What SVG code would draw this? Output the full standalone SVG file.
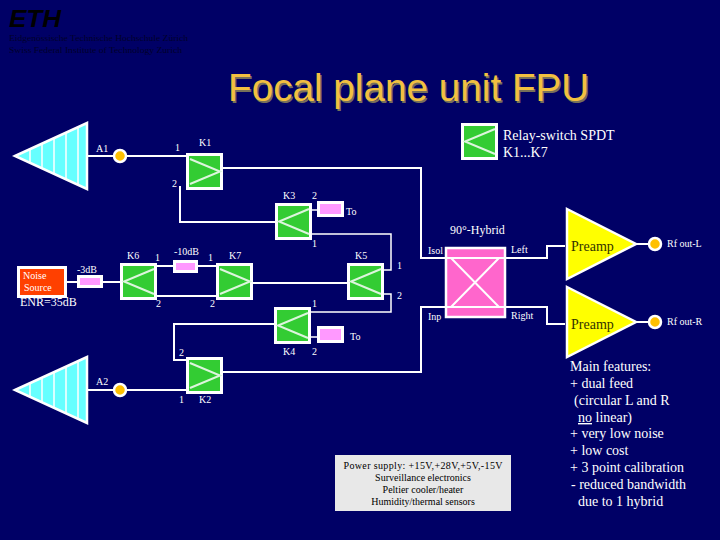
<svg xmlns="http://www.w3.org/2000/svg" width="720" height="540" viewBox="0 0 720 540">
<defs>
<style>
text{font-family:"Liberation Serif","Times New Roman",serif;fill:#fff;font-size:10px}
.w{fill:none;stroke:#fff;stroke-width:2}
.t{stroke-width:1.5}
.sw{fill:#33cc33;stroke:#fff;stroke-width:3}
.sl{fill:none;stroke:#ddf5dd;stroke-width:2}
.at{fill:#ff99ff;stroke:#fff;stroke-width:3}
.dot{fill:#ffc000;stroke:#fff;stroke-width:2.5}
.horn{fill:#66ffff;stroke:#fff;stroke-width:2.5}
.amp{fill:#ffff00;stroke:#fff;stroke-width:2.5}
.f{font-size:14px;fill:#333300}
.m{font-size:14px}
.ttl{font-family:"Liberation Sans",Arial,sans-serif;font-size:38.7px}
.k{fill:#000}
.lg{fill:#000;font-size:7.5px;opacity:.6}
</style>
<g id="swL"><rect class="sw" x="1.5" y="1.5" width="34" height="34"/><path class="sl" d="M4 6 34 18.500 4 31"/></g>
<g id="swR"><rect class="sw" x="1.5" y="1.5" width="34" height="34"/><path class="sl" d="M34 6 4 18.500 34 31"/></g>
<g id="hornS"><path class="horn" d="M15 33 87 0V66Z"/><path d="M30 26V40M42 20V46M54 15V51M66 10V56M78 5V61" stroke="#fff" stroke-width="1.500" fill="none"/></g>
</defs>
<rect width="720" height="540" fill="#000066"/>
<g id="logo">
<text x="9" y="27" textLength="52" lengthAdjust="spacingAndGlyphs" style="font-family:'Liberation Sans',sans-serif;font-size:23px;font-weight:bold;font-style:italic;fill:#000">ETH</text>
<text x="9" y="41" class="lg" textLength="179" lengthAdjust="spacingAndGlyphs">Eidgenössische Technische Hochschule Zürich</text>
<text x="9" y="53" class="lg" textLength="173" lengthAdjust="spacingAndGlyphs">Swiss Federal Institute of Technology Zurich</text>
</g>
<text x="229.500" y="102.500" class="ttl" style="fill:#77705a">Focal plane unit FPU</text>
<text x="228" y="101" class="ttl" style="fill:#f2c040">Focal plane unit FPU</text>
<g id="connectors">
<path class="w" d="M87 156H186M222 168H421V258H506M180 186V222H276M87 390H186M222 372H421V307H506M186 360H174V324H275M102 282H120M156 266H216M156 296H216M252 283H347M66 282H77"/>
<path class="w t" d="M312 234H391V270H384M384 294H391V312H311M312 210H317M311 337H317"/>
<path class="w" d="M506 258H547V246H565M506 307H547V324H565M637 244H650M637 322H650"/>
</g>
<use id="horn-A1" href="#hornS" y="123"/>
<use id="horn-A2" href="#hornS" y="357"/>
<circle id="port-A1" class="dot" cx="120" cy="156" r="6"/>
<circle id="port-A2" class="dot" cx="120" cy="390" r="6"/>
<g id="K1"><use href="#swL" x="186" y="153"/><text x="199" y="146">K1</text><text x="175" y="151">1</text><text x="172" y="187">2</text></g>
<g id="K2"><use href="#swL" x="186" y="357"/><text x="199" y="403">K2</text><text x="179" y="403">1</text><text x="179" y="356">2</text></g>
<g id="K3"><use href="#swR" x="275" y="203"/><text x="283" y="199">K3</text><text x="312" y="199">2</text><text x="312" y="247">1</text></g>
<g id="K4"><use href="#swR" x="274" y="307"/><text x="283" y="355">K4</text><text x="312" y="355">2</text><text x="312" y="307">1</text></g>
<g id="K5"><use href="#swR" x="347" y="263"/><text x="355" y="259">K5</text><text x="397" y="269">1</text><text x="397" y="299">2</text></g>
<g id="K6"><use href="#swR" x="120" y="263"/><text x="127" y="259">K6</text><text x="155" y="261">1</text><text x="156" y="307">2</text></g>
<g id="K7"><use href="#swL" x="216" y="263"/><text x="229" y="259">K7</text><text x="208" y="261">1</text><text x="210" y="307">2</text></g>
<g id="att-3"><rect class="at" x="78.500" y="276.500" width="23" height="10"/><text x="77" y="273">-3dB</text></g>
<g id="att-10"><rect class="at" x="174.500" y="261.500" width="22" height="10"/><text x="174" y="255">-10dB</text></g>
<g id="att-To1"><rect class="at" x="318.500" y="202.500" width="24" height="13"/><text x="346" y="215">To</text></g>
<g id="att-To2"><rect class="at" x="318.500" y="327.500" width="24" height="14"/><text x="350" y="340">To</text></g>
<g id="noise"><rect x="18.500" y="267.500" width="47" height="29" fill="#ff4000" stroke="#fff" stroke-width="3"/><text x="23" y="279">Noise</text><text x="24" y="291">Source</text><text x="20" y="306" style="font-size:12px">ENR=35dB</text></g>
<g id="hybrid"><rect x="446" y="248" width="59" height="69" fill="#ff66cc" stroke="#fff" stroke-width="2.500"/><path class="w" d="M446 258H505M446 307H505M451 258 499 307M499 258 451 307"/><text x="428" y="254">Isol</text><text x="428" y="320">Inp</text><text x="511" y="253">Left</text><text x="511" y="319">Right</text><text x="450" y="234" style="font-size:12px">90°-Hybrid</text></g>
<g id="amp1"><path class="amp" d="M567 209 636 244 567 279Z"/><text x="571" y="251" class="f">Preamp</text></g>
<g id="amp2"><path class="amp" d="M567 287 636 322 567 357Z"/><text x="571" y="329" class="f">Preamp</text></g>
<circle id="port-L" class="dot" cx="655" cy="244" r="6"/>
<circle id="port-R" class="dot" cx="655" cy="322" r="6"/>
<text x="667" y="247">Rf out-L</text>
<text x="667" y="325">Rf out-R</text>
<text x="96" y="152">A1</text>
<text x="96" y="385">A2</text>
<g id="legend"><use href="#swR" x="461" y="123"/><text x="503" y="140" style="font-size:14px">Relay-switch SPDT</text><text x="503" y="157" style="font-size:14px">K1...K7</text></g>
<g id="power"><rect x="335" y="455" width="176" height="56" fill="#e8e8e8"/>
<g style="text-anchor:middle"><text x="423" y="469" class="k" textLength="159">Power supply: +15V,+28V,+5V,-15V</text><text x="423" y="481" class="k">Surveillance electronics</text><text x="423" y="493" class="k">Peltier cooler/heater</text><text x="423" y="505" class="k">Humidity/thermal sensors</text></g></g>
<g id="features" class="m">
<text x="570" y="371" class="m">Main features:</text>
<text x="570" y="388" class="m">+ dual feed</text>
<text x="574" y="405" class="m">(circular L and R</text>
<text x="578" y="422" class="m"><tspan text-decoration="underline">no</tspan> linear)</text>
<text x="570" y="438" class="m">+ very low noise</text>
<text x="570" y="455" class="m">+ low cost</text>
<text x="570" y="472" class="m">+ 3 point calibration</text>
<text x="571" y="489" class="m">- reduced bandwidth</text>
<text x="578" y="506" class="m">due to 1 hybrid</text>
</g>
</svg>
